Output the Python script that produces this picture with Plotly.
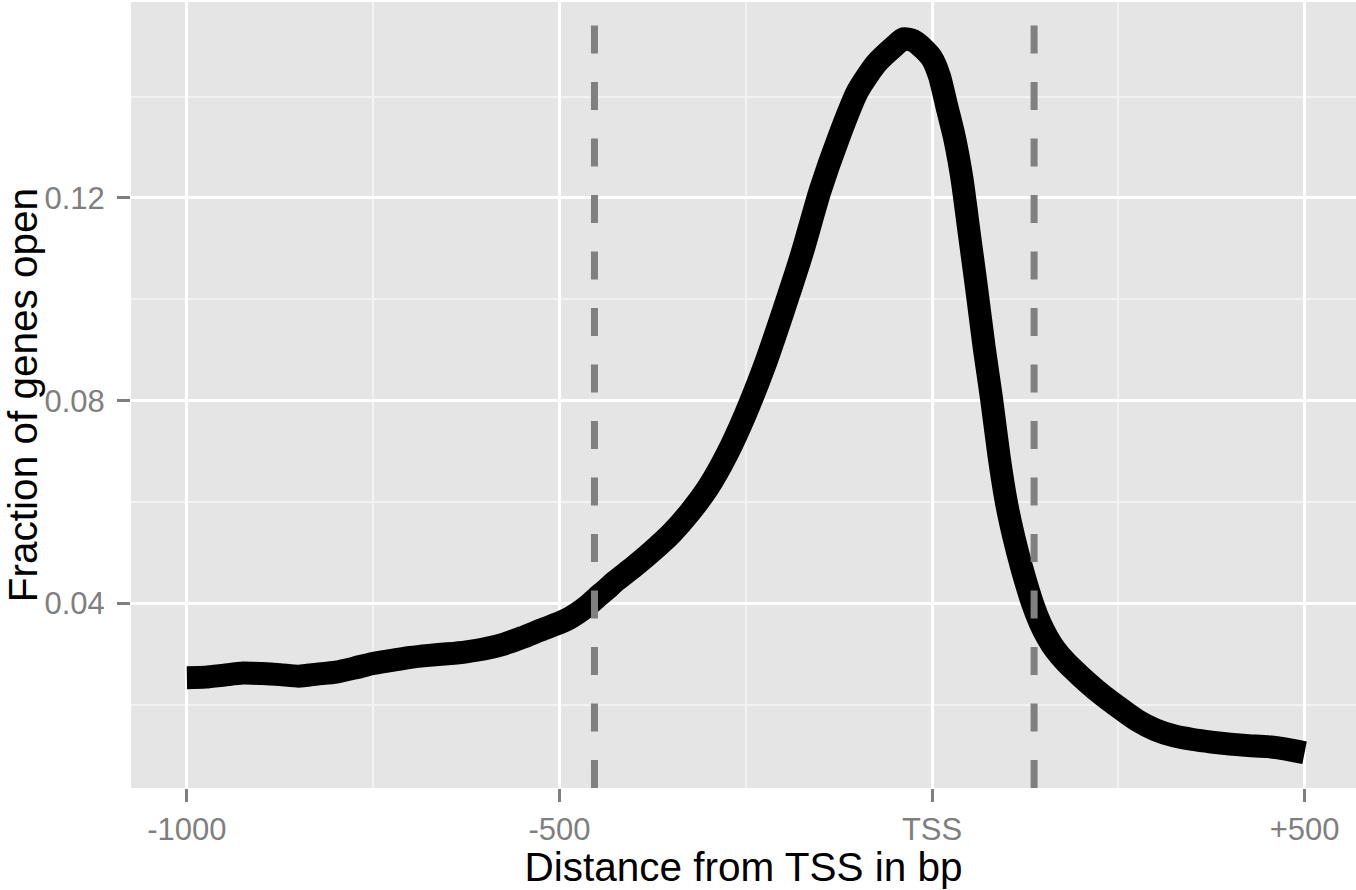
import plotly.graph_objects as go

# Fraction of genes with open chromatin around the transcription start site
position_bp = [-1000, -975, -950, -925, -900, -875, -850, -825, -800, -775,
               -750, -725, -700, -675, -650, -625, -600, -575, -550, -525,
               -500, -487, -475, -462, -450, -437, -425, -400, -375, -350,
               -325, -300, -275, -250, -225, -200, -175, -150, -125, -100,
               -75, -50, -38, -25, -12, 0, 10, 20, 30, 40,
               50, 60, 70, 80, 90, 100, 110, 120, 135, 145,
               155, 165, 180, 200, 225, 250, 275, 300, 325, 350,
               375, 400, 425, 450, 475, 500]
fraction_open = [0.0254, 0.0255, 0.0259, 0.0263, 0.0262, 0.0260, 0.0257, 0.0261, 0.0265, 0.0273,
                 0.0282, 0.0288, 0.0294, 0.0298, 0.0301, 0.0305, 0.0311, 0.0320, 0.0333, 0.0348,
                 0.0362, 0.0371, 0.0382, 0.0396, 0.0412, 0.0428, 0.0444, 0.0473, 0.0504, 0.0538,
                 0.0580, 0.0630, 0.0695, 0.0775, 0.0868, 0.0975, 0.1088, 0.1215, 0.1320, 0.1410,
                 0.1465, 0.1500, 0.1514, 0.1510, 0.1495, 0.1475, 0.1440, 0.1380, 0.1320, 0.1240,
                 0.1130, 0.1020, 0.0905, 0.0803, 0.0690, 0.0598, 0.0530, 0.0473, 0.0400, 0.0362,
                 0.0333, 0.0310, 0.0284, 0.0256, 0.0224, 0.0196, 0.0170, 0.0151, 0.0139, 0.0132,
                 0.0127, 0.0123, 0.0120, 0.0118, 0.0113, 0.0106]

# Boundaries of the promoter window
window_bounds_bp = [-453, 137]

x_tickvals = [-1000, -500, 0, 500]
x_ticktext = ["-1000", "-500", "TSS", "+500"]
x_minor_vals = [-750, -250, 250]
y_tickvals = [0.04, 0.08, 0.12]
y_ticktext = ["0.04", "0.08", "0.12"]
y_minor_vals = [0.02, 0.06, 0.10, 0.14]

FONT = "Liberation Sans, Arial, Helvetica, sans-serif"
PANEL = "#E5E5E5"
TICK_GREY = "#7F7F7F"

fig = go.Figure()

fig.add_trace(go.Scatter(
    x=position_bp, y=fraction_open, mode="lines",
    line=dict(color="black", width=23, shape="spline", smoothing=0.6),
    showlegend=False, hoverinfo="x+y",
))

for xb in window_bounds_bp:
    fig.add_shape(
        type="line", xref="x", yref="paper",
        x0=xb, x1=xb, y0=0, y1=1,
        line=dict(color="#808080", width=7, dash="28px,28.5px"),
        layer="above",
    )

fig.update_layout(
    width=1356, height=890,
    margin=dict(l=131, r=0, t=2, b=102, autoexpand=False),
    paper_bgcolor="white",
    plot_bgcolor=PANEL,
    font=dict(family=FONT, color="black"),
    xaxis=dict(
        range=[-1075, 569],
        tickvals=x_tickvals, ticktext=x_ticktext,
        ticks="outside", ticklen=13, tickwidth=3, tickcolor=TICK_GREY,
        tickfont=dict(size=31, color=TICK_GREY, family=FONT),
        showgrid=True, gridcolor="white", gridwidth=3,
        minor=dict(tickvals=x_minor_vals, showgrid=True, gridcolor="#F2F2F2", gridwidth=1.5, ticks=""),
        zeroline=False, showline=False,
        title=dict(text="Distance from TSS in bp", font=dict(size=40.5, color="black", family=FONT), standoff=3),
        ticklabelstandoff=1,
        automargin=False,
    ),
    yaxis=dict(
        range=[0.00364, 0.15864],
        tickvals=y_tickvals, ticktext=y_ticktext,
        ticks="outside", ticklen=13, tickwidth=3, tickcolor=TICK_GREY,
        tickfont=dict(size=31, color=TICK_GREY, family=FONT),
        showgrid=True, gridcolor="white", gridwidth=3,
        minor=dict(tickvals=y_minor_vals, showgrid=True, gridcolor="#F2F2F2", gridwidth=1.5, ticks=""),
        zeroline=False, showline=False,
        title=dict(text="Fraction of genes open", font=dict(size=40.5, color="black", family=FONT), standoff=8),
        ticklabelstandoff=6,
        automargin=False,
    ),
)

fig.write_html("out.html")
